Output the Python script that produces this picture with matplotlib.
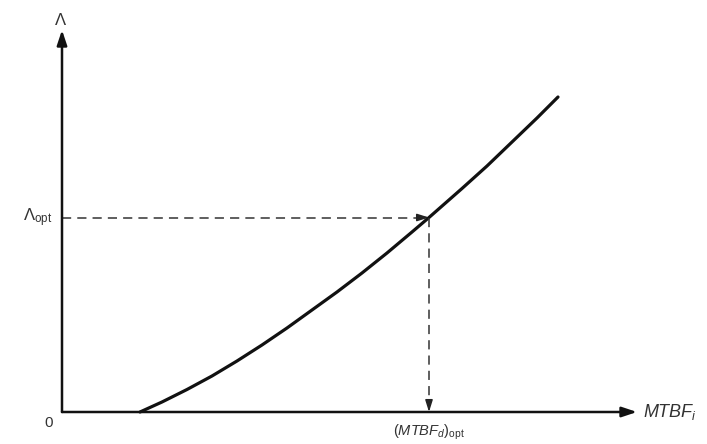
import matplotlib
matplotlib.use("Agg")
import matplotlib.pyplot as plt

plt.rcParams["mathtext.fontset"] = "custom"
plt.rcParams["mathtext.rm"] = "Liberation Sans"
plt.rcParams["mathtext.it"] = "Liberation Sans:italic"
plt.rcParams["mathtext.bf"] = "Liberation Sans:bold"
plt.rcParams["font.family"] = ["Liberation Sans", "DejaVu Sans"]

# Fleet-level failure rate as a function of the designed MTBF
mtbf = [0.78, 1.00, 1.25, 1.50, 1.75, 2.00, 2.25, 2.50, 2.75, 3.00,
        3.25, 3.50, 3.67, 4.00, 4.25, 4.50, 4.75, 4.96]
rate = [0.00, 0.10, 0.225, 0.36, 0.51, 0.67, 0.84, 1.02, 1.20, 1.39,
        1.59, 1.80, 1.945, 2.235, 2.46, 2.70, 2.94, 3.15]

# Optimum operating point
mtbf_opt = 3.67
rate_opt = 1.945

# Axis extents
x_end = 5.75
y_end = 3.82

fig = plt.figure(figsize=(7.07, 4.44), dpi=100)
ax = fig.add_axes([0, 0, 1, 1])
ax.set_xlim(-0.62, 6.45)
ax.set_ylim(-0.32, 4.12)
ax.axis("off")

ink = "#111111"

# Axes with arrowheads
ax.annotate("", xy=(x_end, 0), xytext=(0, 0),
            arrowprops=dict(arrowstyle="-|>,head_length=0.9,head_width=0.3",
                            color=ink, lw=1.8, shrinkA=0, shrinkB=0))
ax.annotate("", xy=(0, y_end), xytext=(0, 0),
            arrowprops=dict(arrowstyle="-|>,head_length=0.9,head_width=0.3",
                            color=ink, lw=1.8, shrinkA=0, shrinkB=0))

# Curve
ax.plot(mtbf, rate, color=ink, lw=2.3, solid_capstyle="round", solid_joinstyle="round")

# Dashed guides to the optimum point
ax.plot([0, mtbf_opt - 0.1], [rate_opt, rate_opt], color="#333333", lw=1.1,
        dashes=(6, 4))
ax.annotate("", xy=(mtbf_opt, rate_opt), xytext=(mtbf_opt - 0.12, rate_opt),
            arrowprops=dict(arrowstyle="-|>,head_length=0.7,head_width=0.22",
                            color="#222222", lw=1.1, shrinkA=0, shrinkB=0))
ax.plot([mtbf_opt, mtbf_opt], [rate_opt, 0.1], color="#333333", lw=1.1,
        dashes=(6, 4))
ax.annotate("", xy=(mtbf_opt, 0.0), xytext=(mtbf_opt, 0.12),
            arrowprops=dict(arrowstyle="-|>,head_length=0.7,head_width=0.22",
                            color="#222222", lw=1.1, shrinkA=0, shrinkB=0))

# Labels
txt = "#333333"
ax.text(-0.01, 3.92, r"$\Lambda$", ha="center", va="center", fontsize=12, color=txt)
ax.text(-0.1, rate_opt, r"$\Lambda_{\mathrm{opt}}$", ha="right", va="center",
        fontsize=12, color=txt)
ax.text(-0.13, -0.11, "0", ha="center", va="center", fontsize=11, color=txt)
ax.text(mtbf_opt, -0.205, r"$(MTBF_d)_{\mathrm{opt}}$", ha="center", va="center",
        fontsize=10.5, color=txt)
ax.text(x_end + 0.06, 0.0, r"$MTBF_i$", ha="left", va="center",
        fontsize=13, color=txt)

fig.savefig("out.png", dpi=100, facecolor="white")
